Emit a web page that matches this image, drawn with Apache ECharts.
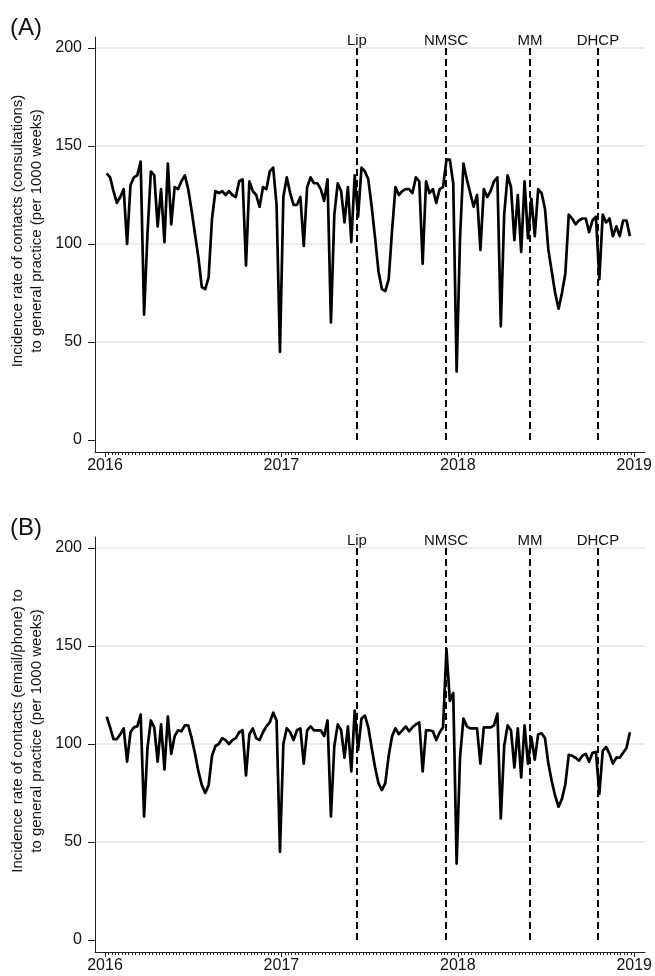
<!DOCTYPE html>
<html><head><meta charset="utf-8">
<script src="https://cdn.jsdelivr.net/npm/echarts@6/dist/echarts.min.js"></script>
<style>html,body{margin:0;padding:0;background:#fff}#c{width:655px;height:976px}</style>
</head><body><div id="c"></div>
<script>
// ---- data ----
const startYear = 2016;
const weeksPerYear = 52;
const consultations = [
 136,134,127,121,124,128,100,130,134,135,
 142,64,105,137,135,109,128,101,141,110,
 129,128,132,135,128,117,105,93,78,77,
 83,113,127,126,127,125,127,125,124,132,
 133,89,132,127,125,119,129,128,137,139,
 120,45,124,134,126,120,120,124,99,129,
 134,131,131,128,122,133,60,115,131,127,
 111,129,101,135,114,139,137,133,119,103,
 86,77,76,82,107,129,125,127,128,128,
 126,134,132,90,132,126,128,121,128,129,
 143,143,131,35,103,141,133,126,119,125,
 97,128,124,127,132,134,58,115,135,129,
 102,125,96,132,103,123,104,128,126,118,
 97,86,75,67,75,85,115,113,110,112,
 113,113,106,112,114,82,115,111,113,104,
 109,104,112,112,104
];
const emailPhone = [
 114,108.5,102.5,102.5,105,108,91,106,108.5,109,
 115,63,98,112,108.5,91,110,87,114,95,
 104,107,106.5,109.5,109.5,103,95,86,79,75,
 79,94,99,100,103,102,100,102,103,106,
 107,84,105,108,103,102,106,109,111,116,
 112,45,100,108,106,102,107,108,90,107,
 109,107,107,107,104,112,63,99,110,107,
 93,109,86,117,97,113,114.5,108.5,98,88,
 80,76.5,80,94,104,108,105,107,109,106.5,
 108.5,110,111,86,107,107,106.5,102,106,108.5,
 148.5,122,126,39,93,113,109,108,108,108,
 90,108.5,108.5,108.5,109.5,115.5,62,99,109.5,107,
 88,108,83,109.5,90,103.5,92,105,105.5,103,
 90,81,73.5,68,72,79.5,94.5,94,93,91.5,
 94,95,91,95.5,96,74.5,96.5,98.5,95,90,
 93,93,95.5,98,106
];
const eventNames = ['Lip','NMSC','MM','DHCP'];
const eventYears = [2017.426, 2017.930, 2018.405, 2018.790];
const yearTickMin = 2016, yearTickMax = 2019;
const yTickMin = 0, yTickMax = 200, yTickStep = 50;
const panelLabels = ['(A)','(B)'];
const yTitles = [
 'Incidence rate of contacts (consultations)\nto general practice (per 1000 weeks)',
 'Incidence rate of contacts (email/phone) to\nto general practice (per 1000 weeks)'
];
const seriesList = [consultations, emailPhone];

// ---- layout ----
const FONT = '"Liberation Sans", Arial, Helvetica, sans-serif';
const TXT = '#111';
const plotLeft = 95, plotRight = 645, yearL = 105, yearR = 635;
const pxPerYear = (yearR - yearL) / (yearTickMax - yearTickMin);
const xMin = yearTickMin - (yearL - plotLeft) / pxPerYear;
const xMax = yearTickMax + (plotRight - yearR) / pxPerYear;
const y0px = [440, 940];
const ppu = 1.96;
const padTop = 11, padBottom = 12;
const yMin = -padBottom / ppu, yMax = yTickMax + padTop / ppu;

function weekX(k) {
  const y = startYear + Math.floor(k / weeksPerYear);
  const w = k % weeksPerYear;
  return y + (w + 0.5) / weeksPerYear;
}

const grid = [], xAxis = [], yAxis = [], series = [], graphic = [];
for (let p = 0; p < 2; p++) {
  const y200 = y0px[p] - yTickMax * ppu;
  const top = y200 - padTop;
  const h = (y0px[p] + padBottom) - top;
  const gi = grid.length;
  grid.push({left: plotLeft, top: top, width: plotRight - plotLeft, height: h});
  grid.push({left: yearL, top: top, width: yearR - yearL, height: h});
  grid.push({left: plotLeft, top: y200, width: plotRight - plotLeft, height: yTickMax * ppu});
  // data grid axes
  xAxis.push({gridIndex: gi, type:'value', min:xMin, max:xMax,
    axisLine:{show:true, onZero:false, lineStyle:{color:'#222', width:1}},
    axisTick:{show:false}, axisLabel:{show:false}, splitLine:{show:false}});
  yAxis.push({gridIndex: gi, type:'value', min:yMin, max:yMax,
    axisLine:{show:true, onZero:false, lineStyle:{color:'#222', width:1}},
    axisTick:{show:false}, axisLabel:{show:false}, splitLine:{show:false}});
  // year tick grid
  xAxis.push({gridIndex: gi+1, type:'value', min:yearTickMin, max:yearTickMax, interval:1,
    axisLine:{show:false, onZero:false},
    axisTick:{show:true, length:5, lineStyle:{color:'#222', width:1}},
    minorTick:{show:true, splitNumber:weeksPerYear, length:3, lineStyle:{color:'#222', width:1}},
    axisLabel:{show:true, formatter:v => String(Math.round(v)), fontSize:16, fontFamily:FONT, color:TXT, margin:6},
    splitLine:{show:false}});
  yAxis.push({gridIndex: gi+1, type:'value', min:yMin, max:yMax, show:false});
  // y tick grid
  xAxis.push({gridIndex: gi+2, type:'value', min:0, max:1, show:false});
  yAxis.push({gridIndex: gi+2, type:'value', min:yTickMin, max:yTickMax, interval:yTickStep,
    axisLine:{show:false, onZero:false},
    axisTick:{show:true, length:7, lineStyle:{color:'#222', width:1}},
    axisLabel:{show:true, fontSize:16, fontFamily:FONT, color:TXT, margin:13},
    splitLine:{show:true, lineStyle:{color:['rgba(0,0,0,0)','#e6e6e6','#e6e6e6','#e6e6e6','#e6e6e6'], width:1.5}}});

  series.push({
    type:'line', xAxisIndex: gi, yAxisIndex: gi, z: 5,
    data: seriesList[p].map((v,k) => [weekX(k), v]),
    symbol:'none', lineStyle:{color:'#000', width:2.7, join:'round'}, animation:false,
    markLine:{
      silent:true, symbol:['none','none'], animation:false,
      lineStyle:{color:'#000', width:2, type:[7,4]},
      label:{show:true, position:'end', formatter:'{b}', fontSize:15, fontFamily:FONT, color:TXT, distance:0},
      data: eventNames.map((n,i) => [{name:n, coord:[eventYears[i], 0]}, {coord:[eventYears[i], 200]}])
    }
  });

  graphic.push({type:'text', x:10, y: y0px[p] - 412, style:{text: panelLabels[p], font:'24px ' + FONT, fill:TXT, align:'left', verticalAlign:'middle'}});
  graphic.push({type:'text', x:27.5, y: y0px[p] - 209, rotation: Math.PI/2,
    style:{text: yTitles[p], font:'15px ' + FONT, fill:TXT, align:'center', verticalAlign:'middle', lineHeight:19.5}});
}

const chart = echarts.init(document.getElementById('c'), null, {renderer:'canvas'});
chart.setOption({animation:false, backgroundColor:'#fff', grid, xAxis, yAxis, series, graphic});
</script></body></html>
